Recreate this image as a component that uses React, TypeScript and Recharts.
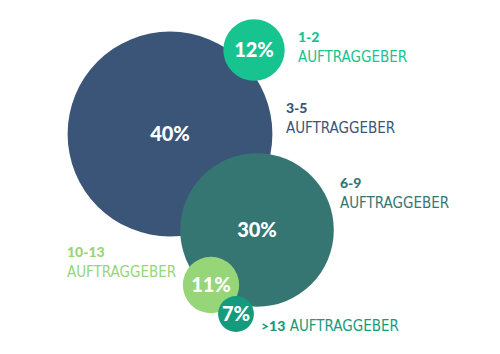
import { ScatterChart, Scatter, XAxis, YAxis } from "recharts";

// Anzahl Auftraggeber
const categories = ["1-2", "3-5", "6-9", "10-13", ">13"];
const shares = [12, 40, 30, 11, 7];
// bubble centres in chart units (x: 0-500, y: 0-354 from top)
const centerX = [254, 170, 257, 211, 236];
const centerY = [50, 134, 230, 285, 314];

const colors = ["#17c38f", "#3a5577", "#367672", "#96d578", "#149b7e"];
const PX_PER_PCT = 2.56;

// label placement relative to bubble centre: [dx, dy of first baseline, inline]
const labelLayout: [number, number, boolean][] = [
  [44, -8, false],
  [116, -21, false],
  [83, -42, false],
  [-144, -28, false],
  [25, 17, true],
];

const data = categories
  .map((c, i) => ({ cat: c, value: shares[i], x: centerX[i], y: centerY[i], idx: i }))
  .sort((a, b) => b.value - a.value);

const numFont = "Lato, 'Open Sans', sans-serif";
const labelFont = "'Liberation Sans Narrow', 'DejaVu Sans Condensed', sans-serif";

function Bubble(props: any) {
  const { cx, cy, payload } = props;
  const i = payload.idx;
  const r = payload.value * PX_PER_PCT;
  const color = colors[i];
  const [dx, dy, inline] = labelLayout[i];
  return (
    <g>
      <circle cx={cx} cy={cy} r={r} fill={color} />
      <text
        x={cx}
        y={cy}
        dy={7}
        textAnchor="middle"
        fill="#fff"
        fontFamily={numFont}
        fontWeight={900}
        fontSize={20}
      >
        {payload.value}%
      </text>
      {inline ? (
        <text x={cx + dx} y={cy + dy} fill={color} fontFamily={labelFont} fontSize={15}>
          <tspan fontWeight={900} fontFamily={numFont} fontSize={14}>
            {payload.cat}
          </tspan>
          <tspan> AUFTRAGGEBER</tspan>
        </text>
      ) : (
        <text x={cx + dx} y={cy + dy} fill={color} fontFamily={labelFont}>
          <tspan fontWeight={900} fontFamily={numFont} fontSize={14}>
            {payload.cat}
          </tspan>
          <tspan x={cx + dx} dy={20} fontSize={15}>
            AUFTRAGGEBER
          </tspan>
        </text>
      )}
    </g>
  );
}

export default function App() {
  return (
    <div
      style={{
        position: "absolute",
        left: 0,
        top: 0,
        width: 500,
        height: 354,
        background: "#fff",
      }}
    >
      <ScatterChart width={500} height={354} margin={{ top: 0, right: 0, bottom: 0, left: 0 }}>
        <XAxis type="number" dataKey="x" domain={[0, 500]} hide />
        <YAxis type="number" dataKey="y" domain={[0, 354]} reversed hide />
        <Scatter data={data} shape={Bubble} isAnimationActive={false} />
      </ScatterChart>
    </div>
  );
}
